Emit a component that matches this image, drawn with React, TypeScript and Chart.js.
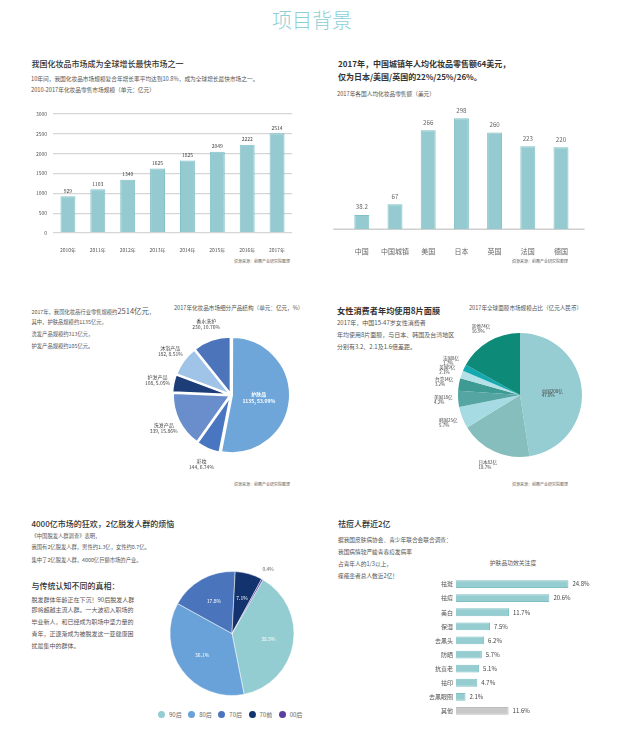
import React, { useEffect, useRef } from 'react';
import { Chart, registerables } from 'chart.js';

Chart.register(...registerables);

const FONT = "'Noto Sans CJK SC', 'Noto Sans', sans-serif";
Chart.defaults.font.family = FONT;

// ---------- data ----------
const marketYears = ['2010年', '2011年', '2012年', '2013年', '2014年', '2015年', '2016年', '2017年'];
const marketValues = [929, 1103, 1340, 1625, 1825, 2049, 2222, 2514];
const marketTicks = [0, 500, 1000, 1500, 2000, 2500, 3000];

const countryNames = ['中国', '中国城镇', '美国', '日本', '英国', '法国', '德国'];
const perCapita = [38.2, 67, 266, 298, 260, 223, 220];

const segNames = ['护肤品', '彩妆', '洗发产品', '护发产品', '沐浴产品', '香水洗护'];
const segValues = [1135, 144, 339, 108, 182, 230];
const segColors = ['#6ea6da', '#4876c0', '#6a8ecb', '#1c3d78', '#9fc4e7', '#4b74bb'];

const maskRegions = ['中国', '日本', '韩国', '美国', '台湾', '英国', '法国', '其他'];
const maskAmounts = [208, 82, 25, 18, 14, 9, 8, 74];
const maskShares = [47.6, 18.7, 5.7, 4.2, 3.2, 2.1, 1.7, 16.9];
const maskColors = ['#95cdd2', '#86bebe', '#a7dbe4', '#55a6a3', '#3e9b94', '#b3e1e7', '#14a9b1', '#0e8a78'];

const hairGroups = ['90后', '80后', '70后', '70前', '00后'];
const hairShares = [38.5, 36.1, 17.8, 7.1, 0.4];
const hairColors = ['#93cdd1', '#68a2d8', '#4a75bd', '#13336e', '#5a3ea0'];

const effectNames = ['祛斑', '祛痘', '美白', '保湿', '去黑头', '防晒', '抗衰老', '祛印', '去黑眼圈', '其他'];
const effectShares = [24.8, 20.6, 11.7, 7.5, 6.2, 5.7, 5.1, 4.7, 2.1, 11.6];

const SOURCE = '资源来源：前瞻产业研究院整理';

// ---------- helpers ----------
function ChartBox({ left, top, width, height, make }: any) {
  const ref = useRef<HTMLCanvasElement>(null);
  useEffect(() => {
    const c = new Chart(ref.current as HTMLCanvasElement, make());
    return () => c.destroy();
  }, []);
  return (
    <canvas
      ref={ref}
      width={width}
      height={height}
      style={{ position: 'absolute', left, top, width, height, display: 'block' }}
    />
  );
}

function Txt({ x, y, size, color = '#555', weight = 400, align = 'left', children }: any) {
  const style: any = {
    position: 'absolute',
    top: y - size * 0.55,
    fontSize: size,
    lineHeight: `${size}px`,
    color,
    fontWeight: weight,
    whiteSpace: 'nowrap',
    fontFamily: FONT,
  };
  if (align === 'left') style.left = x;
  else if (align === 'right') style.right = 625 - x;
  else {
    style.left = x;
    style.transform = 'translateX(-50%)';
  }
  return <div style={style}>{children}</div>;
}

function barValueLabels(id: string, fmt: (v: number) => string, size: number, color: string, gap: number, horizontal = false) {
  return {
    id,
    afterDatasetsDraw(chart: any) {
      const ctx = chart.ctx;
      const ds = chart.data.datasets[0];
      const meta = chart.getDatasetMeta(0);
      ctx.save();
      ctx.font = `${size}px ${FONT}`;
      ctx.fillStyle = color;
      ctx.textBaseline = 'middle';
      ctx.textAlign = horizontal ? 'left' : 'center';
      meta.data.forEach((el: any, i: number) => {
        const v = ds.data[i];
        if (horizontal) ctx.fillText(fmt(v), el.x + gap, el.y);
        else ctx.fillText(fmt(v), el.x, el.y - gap);
      });
      ctx.restore();
    },
  };
}

// ---------- chart configs ----------
const makeMarket = () => ({
  type: 'bar',
  data: {
    labels: marketYears,
    datasets: [{
      data: marketValues,
      backgroundColor: '#95cbd0',
      borderColor: '#80c0c5',
      borderWidth: 1,
      barPercentage: 0.5,
      categoryPercentage: 1,
    }],
  },
  options: {
    responsive: false,
    animation: false,
    layout: { padding: { top: 14, right: 18, left: 0, bottom: 0 } },
    plugins: { legend: { display: false }, tooltip: { enabled: false } },
    scales: {
      x: {
        grid: { display: false },
        border: { display: false },
        ticks: { font: { size: 5, family: FONT }, color: '#555', padding: 6, maxRotation: 0, minRotation: 0, autoSkip: false },
        afterFit: (s: any) => { s.height = 20; },
      },
      y: {
        min: 0,
        max: 3000,
        afterBuildTicks: (s: any) => { s.ticks = marketTicks.map((v) => ({ value: v })); },
        ticks: { font: { size: 5, family: FONT }, color: '#555', padding: 6, callback: (v: any) => String(v) },
        grid: { color: '#d6d6d6', lineWidth: 1.3, drawTicks: false },
        border: { display: false },
        afterFit: (s: any) => { s.width = 33; },
      },
    },
  },
  plugins: [barValueLabels('marketLabels', (v) => String(v), 5, '#444', 5.5)],
});

const baselinePlugin = {
  id: 'baseline',
  beforeDatasetsDraw(chart: any) {
    const { ctx, chartArea: a } = chart;
    ctx.save();
    ctx.strokeStyle = '#cfcfcf';
    ctx.lineWidth = 1.5;
    ctx.beginPath();
    ctx.moveTo(a.left - 12, a.bottom);
    ctx.lineTo(a.right + 7, a.bottom);
    ctx.stroke();
    ctx.restore();
  },
};

const makePerCapita = () => ({
  type: 'bar',
  data: {
    labels: countryNames,
    datasets: [{
      data: perCapita,
      backgroundColor: '#95cbd0',
      borderColor: '#80c0c5',
      borderWidth: 1,
      barPercentage: 0.45,
      categoryPercentage: 1,
    }],
  },
  options: {
    responsive: false,
    animation: false,
    layout: { padding: { top: 17.5, right: 42.4, left: 25.2, bottom: 0 } },
    plugins: { legend: { display: false }, tooltip: { enabled: false } },
    scales: {
      x: {
        grid: { display: false },
        border: { display: false },
        ticks: { font: { size: 7, family: FONT }, color: '#666', padding: 10, maxRotation: 0, minRotation: 0, autoSkip: false },
        afterFit: (s: any) => { s.height = 30.7; },
      },
      y: { display: false, min: 0, max: 300 },
    },
  },
  plugins: [baselinePlugin, barValueLabels('pcLabels', (v) => String(v), 6.2, '#666', 8)],
});

const segLabelPlugin = {
  id: 'segLabels',
  afterDatasetsDraw(chart: any) {
    const ctx = chart.ctx;
    const meta = chart.getDatasetMeta(0);
    const total = segValues.reduce((a, b) => a + b, 0);
    ctx.save();
    ctx.textAlign = 'center';
    ctx.textBaseline = 'middle';
    meta.data.forEach((arc: any, i: number) => {
      const mid = (arc.startAngle + arc.endAngle) / 2;
      const inside = i === 0;
      const R = inside ? arc.outerRadius * 0.49 : arc.outerRadius + 18;
      const px = arc.x + Math.cos(mid) * R;
      const py = arc.y + Math.sin(mid) * R;
      ctx.fillStyle = inside ? '#ffffff' : '#444';
      ctx.font = `${inside ? 'bold ' : ''}5px ${FONT}`;
      ctx.fillText(segNames[i], px, py - 3.2);
      ctx.fillText(`${segValues[i]}, ${(segValues[i] / total * 100).toFixed(2)}%`, px, py + 3.2);
    });
    ctx.restore();
  },
};

const makeSegments = () => ({
  type: 'pie',
  data: {
    labels: segNames,
    datasets: [{
      data: segValues,
      backgroundColor: segColors,
      borderColor: '#ffffff',
      borderWidth: 2,
      offset: 4,
    }],
  },
  options: {
    responsive: false,
    animation: false,
    radius: 57,
    plugins: { legend: { display: false }, tooltip: { enabled: false } },
  },
  plugins: [segLabelPlugin],
});

const maskLabelPlugin = {
  id: 'maskLabels',
  afterDatasetsDraw(chart: any) {
    const ctx = chart.ctx;
    const meta = chart.getDatasetMeta(0);
    ctx.save();
    ctx.font = `4.5px ${FONT}`;
    ctx.textBaseline = 'middle';
    ctx.textAlign = 'left';
    ctx.fillStyle = '#444';
    meta.data.forEach((arc: any, i: number) => {
      const mid = (arc.startAngle + arc.endAngle) / 2;
      const inside = i === 0;
      const R = inside ? arc.outerRadius * 0.35 : arc.outerRadius + 15;
      const px = arc.x + Math.cos(mid) * R;
      const py = arc.y + Math.sin(mid) * R;
      const l1 = `${maskRegions[i]}${maskAmounts[i]}亿`;
      const l2 = `${maskShares[i]}%`;
      const w = ctx.measureText(l1).width;
      const sx = inside ? px : px - w / 2;
      ctx.fillText(l1, sx, py - 2.4);
      ctx.fillText(l2, sx, py + 2.4);
    });
    ctx.restore();
  },
};

const makeMask = () => ({
  type: 'pie',
  data: {
    labels: maskRegions,
    datasets: [{ data: maskShares, backgroundColor: maskColors, borderWidth: 0 }],
  },
  options: {
    responsive: false,
    animation: false,
    radius: 62,
    plugins: { legend: { display: false }, tooltip: { enabled: false } },
  },
  plugins: [maskLabelPlugin],
});

const hairLabelPlugin = {
  id: 'hairLabels',
  afterDatasetsDraw(chart: any) {
    const ctx = chart.ctx;
    const meta = chart.getDatasetMeta(0);
    ctx.save();
    ctx.font = `5px ${FONT}`;
    ctx.textBaseline = 'middle';
    ctx.textAlign = 'center';
    meta.data.forEach((arc: any, i: number) => {
      const mid = (arc.startAngle + arc.endAngle) / 2;
      const inside = hairShares[i] >= 1;
      const R = inside ? 37 : arc.outerRadius + 12;
      const px = arc.x + Math.cos(mid) * R;
      const py = arc.y + Math.sin(mid) * R;
      ctx.fillStyle = inside ? '#ffffff' : '#666';
      ctx.fillText(`${hairShares[i]}%`, px, py);
    });
    ctx.restore();
  },
};

const makeHair = () => ({
  type: 'pie',
  data: {
    labels: hairGroups,
    datasets: [{ data: hairShares, backgroundColor: hairColors, borderColor: '#ffffff', borderWidth: 0.5 }],
  },
  options: {
    responsive: false,
    animation: false,
    radius: 62,
    rotation: 30,
    plugins: { legend: { display: false }, tooltip: { enabled: false } },
  },
  plugins: [hairLabelPlugin],
});

const makeEffects = () => ({
  type: 'bar',
  data: {
    labels: effectNames,
    datasets: [{
      data: effectShares,
      backgroundColor: effectNames.map((_, i) => (i === effectNames.length - 1 ? '#c9c9c9' : '#95cdd1')),
      borderColor: effectNames.map((_, i) => (i === effectNames.length - 1 ? '#bdbdbd' : '#7fc0c5')),
      borderWidth: 1,
      barPercentage: 0.55,
      categoryPercentage: 1,
    }],
  },
  options: {
    indexAxis: 'y',
    responsive: false,
    animation: false,
    layout: { padding: { top: 7, bottom: 7, right: 28, left: 0 } },
    plugins: { legend: { display: false }, tooltip: { enabled: false } },
    scales: {
      x: { display: false, min: 0, max: 30 },
      y: {
        grid: { display: false, drawTicks: false },
        border: { display: false },
        ticks: { font: { size: 6, family: FONT }, color: '#555', padding: 3, autoSkip: false },
        afterFit: (s: any) => { s.width = 126; },
      },
    },
  },
  plugins: [barValueLabels('effLabels', (v) => `${v.toFixed(1)}%`, 6, '#444', 4, true)],
});

// ---------- app ----------
export default function App() {
  return (
    <div
      style={{
        position: 'absolute',
        left: 0,
        top: 0,
        width: 625,
        height: 739,
        background: '#ffffff',
        overflow: 'hidden',
        fontFamily: FONT,
      }}
    >
      <Txt x={312} y={21} size={20} color="#8ccfd6" weight={300} align="center">项目背景</Txt>

      {/* Section 1 */}
      <Txt x={31.5} y={64} size={8} color="#333" weight={500}>我国化妆品市场成为全球增长最快市场之一</Txt>
      <Txt x={31} y={79} size={5.7}>10年间，我国化妆品市场规模复合年增长率平均达到10.8%，成为全球增长最快市场之一。</Txt>
      <Txt x={31} y={90.5} size={5.7}>2010-2017年化妆品零售市场规模（单元：亿元）</Txt>
      <ChartBox left={20} top={100} width={290} height={153} make={makeMarket} />
      <Txt x={290} y={261} size={4} align="right" color="#666">{SOURCE}</Txt>

      {/* Section 2 */}
      <Txt x={338} y={64} size={8} color="#333" weight={700}>2017年，中国城镇年人均化妆品零售额64美元，</Txt>
      <Txt x={338} y={77.5} size={8} color="#333" weight={700}>仅为日本/美国/英国的22%/25%/26%。</Txt>
      <Txt x={337} y={94.5} size={5.7}>2017年各国人均化妆品零售额（美元）</Txt>
      <ChartBox left={320} top={100} width={300} height={160} make={makePerCapita} />
      <Txt x={568} y={261} size={4} align="right" color="#666">{SOURCE}</Txt>

      {/* Section 3 */}
      <Txt x={31.5} y={311} size={5.3}>
        2017年，我国化妆品行业零售规模约<span style={{ fontSize: 7.5 }}>2514亿元</span>，
      </Txt>
      <Txt x={31.5} y={323.3} size={5.3}>其中，护肤品规模约1135亿元，</Txt>
      <Txt x={31.5} y={335} size={5.3}>洗发产品规模约313亿元，</Txt>
      <Txt x={31.5} y={346.7} size={5.3}>护发产品规模约105亿元。</Txt>
      <Txt x={174} y={309.3} size={5.6}>2017年化妆品市场细分产品结构（单元：亿元，%）</Txt>
      <ChartBox left={141} top={315} width={180} height={160} make={makeSegments} />
      <Txt x={290} y={484} size={4} align="right" color="#666">{SOURCE}</Txt>

      {/* Section 4 */}
      <Txt x={337} y={311} size={8.2} color="#333" weight={700}>女性消费者年均使用8片面膜</Txt>
      <Txt x={337} y={323.3} size={6}>2017年，中国15-47岁女性消费者</Txt>
      <Txt x={337} y={335} size={6}>年均使用8片面膜，与日本、韩国及台湾地区</Txt>
      <Txt x={337} y={347.3} size={6}>分别有3.2、2.1及1.6倍差距。</Txt>
      <Txt x={469} y={309.3} size={5.6}>2017年全球面膜市场规模占比（亿元人民币）</Txt>
      <ChartBox left={420} top={320} width={200} height={150} make={makeMask} />
      <Txt x={568} y={484} size={4} align="right" color="#666">{SOURCE}</Txt>

      {/* Section 5 */}
      <Txt x={31.5} y={524} size={8} color="#333" weight={500}>4000亿市场的狂欢，2亿脱发人群的烦恼</Txt>
      <Txt x={31.5} y={536.7} size={5.3}>《中国脱发人群调查》表明，</Txt>
      <Txt x={31.5} y={548.3} size={5.3}>我国有2亿脱发人群，男性约1.3亿，女性约0.7亿。</Txt>
      <Txt x={31.5} y={560.7} size={5.3}>集中了2亿脱发人群，4000亿巨额市场的产业。</Txt>
      <Txt x={31.5} y={586} size={8} color="#333" weight={500}>与传统认知不同的真相：</Txt>
      <Txt x={31.5} y={600} size={6}>脱发群体年龄正在下沉！90后脱发人群</Txt>
      <Txt x={31.5} y={610.7} size={6}>即将超越主流人群。一大波初入职场的</Txt>
      <Txt x={31.5} y={622.7} size={6}>毕业新人，和已经成为职场中坚力量的</Txt>
      <Txt x={31.5} y={634.3} size={6}>青年，正逐渐成为被脱发这一亚健康困</Txt>
      <Txt x={31.5} y={646.7} size={6}>扰最集中的群体。</Txt>
      <ChartBox left={152} top={560} width={160} height={147} make={makeHair} />
      <div style={{ position: 'absolute', left: 158, top: 711, display: 'flex', alignItems: 'center', gap: 6.5 }}>
        {hairGroups.map((g, i) => (
          <div key={g} style={{ display: 'flex', alignItems: 'center' }}>
            <span
              style={{
                width: 7,
                height: 7,
                borderRadius: '50%',
                background: hairColors[i],
                display: 'inline-block',
                marginRight: 4,
              }}
            />
            <span style={{ fontSize: 6, color: '#666', lineHeight: '7px', whiteSpace: 'nowrap' }}>{g}</span>
          </div>
        ))}
      </div>

      {/* Section 6 */}
      <Txt x={338} y={524} size={8} color="#333" weight={500}>祛痘人群近2亿</Txt>
      <Txt x={338} y={540} size={5.7}>据我国皮肤病协会、青少年联合会联合调查：</Txt>
      <Txt x={338} y={552.3} size={5.7}>我国病情较严峻青春痘发病率</Txt>
      <Txt x={338} y={564} size={5.7}>占青年人的1/3以上，</Txt>
      <Txt x={338} y={575.7} size={5.7}>痤疮患者总人数近2亿！</Txt>
      <Txt x={513} y={562.7} size={5.8} align="center">护肤品功效关注度</Txt>
      <ChartBox left={330} top={570} width={290} height={155} make={makeEffects} />
    </div>
  );
}
